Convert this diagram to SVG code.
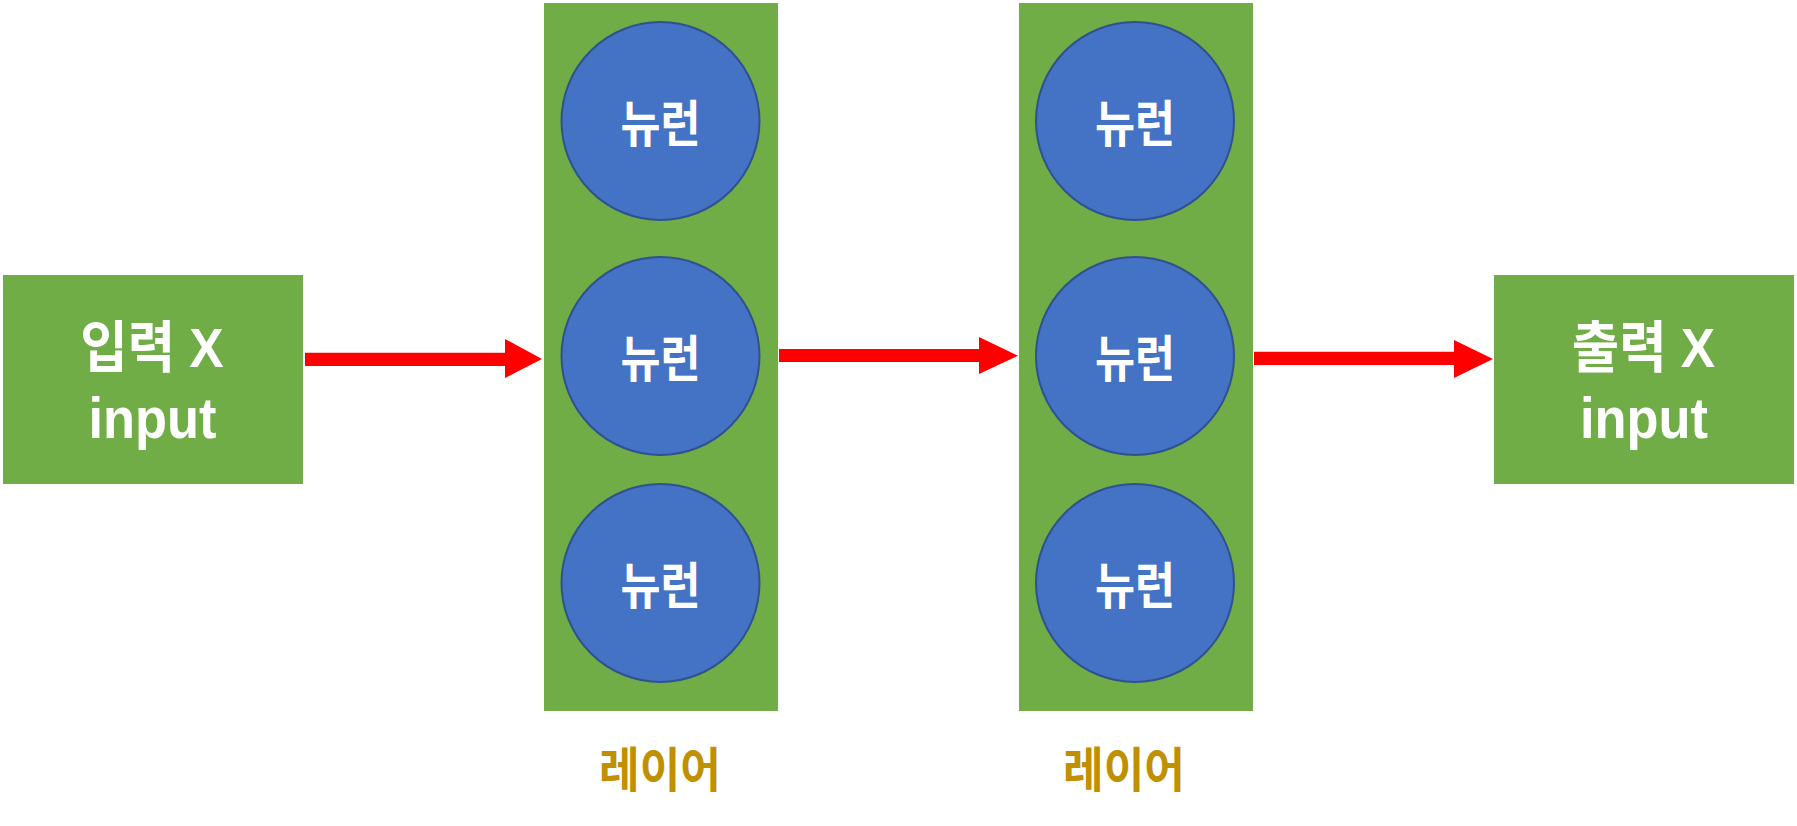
<svg xmlns="http://www.w3.org/2000/svg" width="1797" height="826" viewBox="0 0 1797 826">
<style>
.box{fill:#70AD47;}
.neuron{fill:#4472C4;stroke:#2F528F;stroke-width:2;}
.arrow{fill:#FF0000;}
.t{font-family:"Liberation Sans","Noto Sans CJK KR",sans-serif;font-weight:bold;fill:#FFFFFF;text-anchor:middle;}
.nt{font-family:"Noto Sans CJK KR","Liberation Sans",sans-serif;font-weight:bold;fill:#FFFFFF;text-anchor:middle;font-size:50px;}
.lt{font-family:"Noto Sans CJK KR","Liberation Sans",sans-serif;font-weight:bold;fill:#BF9000;text-anchor:middle;font-size:48px;}
</style>
<rect width="1797" height="826" fill="#FFFFFF"/>
<g id="input">
<rect class="box" x="3" y="275" width="300" height="209"/>
<text class="t" font-size="56" transform="translate(152 367) scale(0.92 1)">입력 X</text>
<text class="t" font-size="57" transform="translate(152.5 438) scale(0.92 1)">input</text>
</g>
<g id="layer1">
<rect class="box" x="544" y="3" width="234" height="708"/>
<text class="lt" transform="translate(660 787) scale(0.92 1)">레이어</text>
</g>
<g id="n1-1"><circle class="neuron" cx="660.5" cy="121" r="99"/><text class="nt" transform="translate(660.5 142) scale(0.87 1)">뉴런</text></g>
<g id="n1-2"><circle class="neuron" cx="660.5" cy="356" r="99"/><text class="nt" transform="translate(660.5 377) scale(0.87 1)">뉴런</text></g>
<g id="n1-3"><circle class="neuron" cx="660.5" cy="583" r="99"/><text class="nt" transform="translate(660.5 604) scale(0.87 1)">뉴런</text></g>
<g id="layer2">
<rect class="box" x="1019" y="3" width="234" height="708"/>
<text class="lt" transform="translate(1124 787) scale(0.92 1)">레이어</text>
</g>
<g id="n2-1"><circle class="neuron" cx="1135" cy="121" r="99"/><text class="nt" transform="translate(1135 142) scale(0.87 1)">뉴런</text></g>
<g id="n2-2"><circle class="neuron" cx="1135" cy="356" r="99"/><text class="nt" transform="translate(1135 377) scale(0.87 1)">뉴런</text></g>
<g id="n2-3"><circle class="neuron" cx="1135" cy="583" r="99"/><text class="nt" transform="translate(1135 604) scale(0.87 1)">뉴런</text></g>
<g id="output">
<rect class="box" x="1494" y="275" width="300" height="209"/>
<text class="t" font-size="56" transform="translate(1643.5 367) scale(0.92 1)">출력 X</text>
<text class="t" font-size="57" transform="translate(1644 438) scale(0.92 1)">input</text>
</g>
<g id="connectors">
<polygon class="arrow" points="305,352.7 505,352.7 505,339 542,359 505,378 505,366 305,366"/>
<polygon class="arrow" points="779,349 979,349 979,337 1018,355.7 979,374 979,362 779,362"/>
<polygon class="arrow" points="1254,351.7 1454,351.7 1454,340 1493,359 1454,378 1454,365 1254,365"/>
</g>
</svg>
